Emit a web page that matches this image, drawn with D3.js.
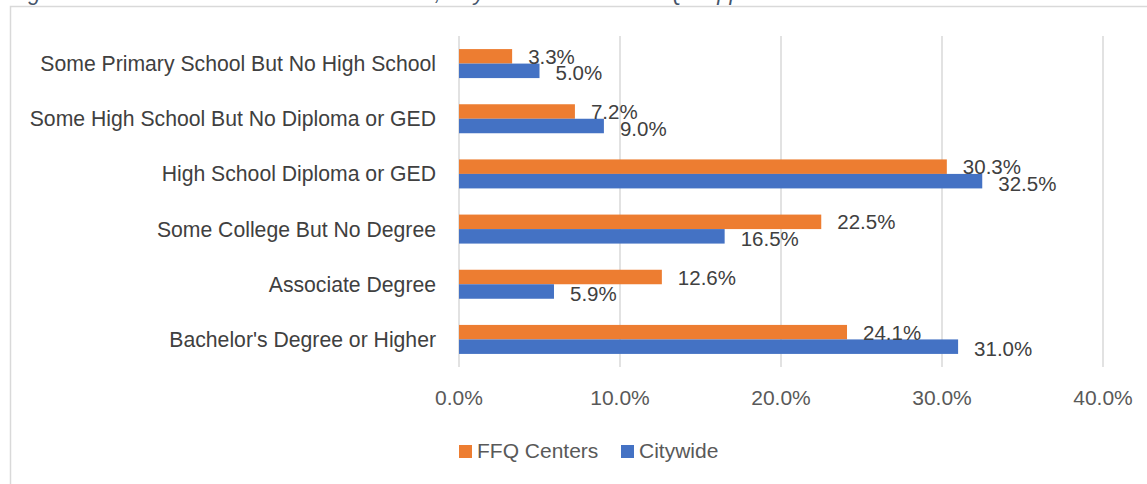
<!DOCTYPE html>
<html>
<head>
<meta charset="utf-8">
<script src="https://cdn.jsdelivr.net/npm/d3@7"></script>
<style>
  html, body { margin: 0; padding: 0; background: #fff; }
  svg { display: block; font-family: "Liberation Sans", Arial, sans-serif; }
</style>
</head>
<body>
<svg id="chart" width="1147" height="484"></svg>
<script>
// data (percent)
const categories = [
  'Some Primary School But No High School',
  'Some High School But No Diploma or GED',
  'High School Diploma or GED',
  'Some College But No Degree',
  'Associate Degree',
  "Bachelor's Degree or Higher"
];
const seriesNames = ['FFQ Centers', 'Citywide'];
const ffqValues = [3.3, 7.2, 30.3, 22.5, 12.6, 24.1];
const cityValues = [5.0, 9.0, 32.5, 16.5, 5.9, 31.0];
const xTicks = [0, 10, 20, 30, 40];
const colors = ['#ED7D31', '#4472C4'];
const caption = 'Figure 3. Educational Attainment of Parents, Citywide and of the FFQ Supported Seats';

const svg = d3.select('#chart');

// caption, cut off at the top like the source
svg.append('text')
  .attr('x', 10).attr('y', -0.5)
  .attr('font-size', 22)
  .attr('font-style', 'italic')
  .attr('fill', '#44546A')
  .text(caption);

// chart border (runs off right / bottom)
svg.append('rect')
  .attr('x', 10.5).attr('y', 6.5)
  .attr('width', 1200).attr('height', 600)
  .attr('fill', '#fff')
  .attr('stroke', '#D9D9D9')
  .attr('stroke-width', 1.5);

const x = d3.scaleLinear().domain([0, 40]).range([459, 1103]);
const y = d3.scaleBand().domain(categories).range([36, 367]);
const barH = 14.5;

// gridlines
svg.append('g')
  .selectAll('line')
  .data(xTicks)
  .join('line')
  .attr('x1', d => x(d)).attr('x2', d => x(d))
  .attr('y1', 36).attr('y2', 367)
  .attr('stroke', '#D9D9D9')
  .attr('stroke-width', 1.5);

// x tick labels
svg.append('g')
  .selectAll('text')
  .data(xTicks)
  .join('text')
  .attr('x', d => x(d))
  .attr('y', 397)
  .attr('text-anchor', 'middle')
  .attr('dominant-baseline', 'central')
  .attr('font-size', 21)
  .attr('fill', '#595959')
  .text(d => d.toFixed(1) + '%');

// category labels
svg.append('g')
  .selectAll('text')
  .data(categories)
  .join('text')
  .attr('x', 436)
  .attr('y', d => y(d) + y.bandwidth() / 2)
  .attr('text-anchor', 'end')
  .attr('dominant-baseline', 'central')
  .attr('font-size', 21.2)
  .attr('fill', '#404040')
  .text(d => d);

const rows = [];
categories.forEach((c, i) => {
  rows.push({cat: c, s: 0, v: ffqValues[i]});
  rows.push({cat: c, s: 1, v: cityValues[i]});
});

// bars
svg.append('g')
  .selectAll('rect')
  .data(rows)
  .join('rect')
  .attr('x', x(0))
  .attr('y', d => y(d.cat) + y.bandwidth() / 2 - barH + d.s * barH)
  .attr('width', d => x(d.v) - x(0))
  .attr('height', barH)
  .attr('fill', d => colors[d.s]);

// data labels
svg.append('g')
  .selectAll('text')
  .data(rows)
  .join('text')
  .attr('x', d => x(d.v) + 16)
  .attr('y', d => y(d.cat) + y.bandwidth() / 2 - barH / 2 + d.s * barH + (d.s ? 2 : 0))
  .attr('dominant-baseline', 'central')
  .attr('font-size', 20.5)
  .attr('fill', '#404040')
  .text(d => d.v.toFixed(1) + '%');

// legend
const legend = svg.append('g');
const legendX = [459, 621];
seriesNames.forEach((name, i) => {
  legend.append('rect')
    .attr('x', legendX[i]).attr('y', 445)
    .attr('width', 13).attr('height', 13)
    .attr('fill', colors[i]);
  legend.append('text')
    .attr('x', legendX[i] + 18).attr('y', 458)
    .attr('font-size', 21)
    .attr('fill', '#595959')
    .text(name);
});
</script>
</body>
</html>
